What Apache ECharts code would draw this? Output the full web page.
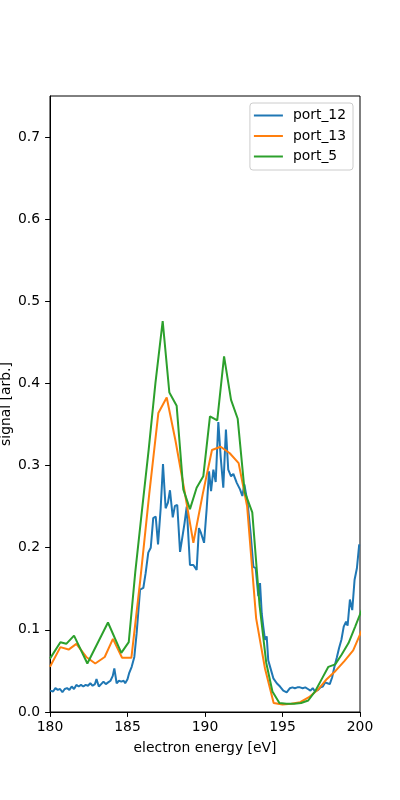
<!DOCTYPE html>
<html>
<head>
<meta charset="utf-8">
<script src="https://cdn.jsdelivr.net/npm/echarts@6/dist/echarts.min.js"></script>
<style>
  html, body { margin: 0; padding: 0; background: #fff; }
  #chart { width: 400px; height: 800px; }
</style>
</head>
<body>
<div id="chart"></div>
<script>
// port_12 (fine scan)
var port12Energy = [180.0, 180.2, 180.35, 180.5, 180.65, 180.8, 180.95, 181.1, 181.25, 181.4,
  181.55, 181.7, 181.85, 182.0, 182.15, 182.3, 182.45, 182.6, 182.75, 182.9,
  183.0, 183.15, 183.3, 183.45, 183.6, 183.75, 183.9, 184.05, 184.15, 184.3,
  184.45, 184.6, 184.75, 184.85, 185.0, 185.1, 185.27, 185.44, 185.59, 185.81,
  186.02, 186.17, 186.34, 186.5, 186.66, 186.82, 186.97, 187.14, 187.29, 187.46,
  187.61, 187.74, 187.92, 188.06, 188.21, 188.39, 188.54, 188.68, 188.82, 189.03,
  189.25, 189.46, 189.61, 189.74, 189.94, 190.11, 190.26, 190.39, 190.54, 190.69,
  190.86, 191.01, 191.18, 191.35, 191.5, 191.68, 191.83, 192.05, 192.26, 192.41,
  192.54, 192.75, 192.94, 193.12, 193.27, 193.44, 193.55, 193.66, 193.76, 193.87,
  193.98, 194.08, 194.26, 194.41, 194.63, 194.84, 195.05, 195.16, 195.27, 195.48,
  195.64, 195.8, 195.96, 196.13, 196.3, 196.47, 196.64, 196.8, 196.95, 197.1,
  197.3, 197.45, 197.6, 197.75, 197.9, 198.05, 198.2, 198.35, 198.5, 198.65,
  198.8, 198.95, 199.1, 199.2, 199.35, 199.5, 199.65, 199.8, 199.95]
var port12Signal = [0.026, 0.025, 0.029, 0.027, 0.028, 0.024, 0.028, 0.029, 0.027, 0.031,
  0.028, 0.033, 0.031, 0.033, 0.031, 0.033, 0.032, 0.035, 0.032, 0.034,
  0.040, 0.031, 0.034, 0.037, 0.034, 0.036, 0.038, 0.044, 0.053, 0.035,
  0.038, 0.037, 0.038, 0.035, 0.040, 0.047, 0.055, 0.067, 0.096, 0.149,
  0.151, 0.169, 0.194, 0.200, 0.236, 0.238, 0.204, 0.248, 0.302, 0.248,
  0.255, 0.270, 0.237, 0.251, 0.252, 0.195, 0.213, 0.230, 0.250, 0.179,
  0.179, 0.173, 0.224, 0.218, 0.206, 0.248, 0.293, 0.269, 0.295, 0.280,
  0.353, 0.311, 0.273, 0.344, 0.295, 0.287, 0.290, 0.279, 0.271, 0.263,
  0.277, 0.254, 0.218, 0.177, 0.175, 0.141, 0.157, 0.120, 0.104, 0.088,
  0.092, 0.063, 0.051, 0.041, 0.035, 0.031, 0.026, 0.028, 0.024, 0.029,
  0.030, 0.029, 0.030, 0.030, 0.029, 0.030, 0.028, 0.026, 0.029, 0.025,
  0.027, 0.030, 0.031, 0.036, 0.035, 0.034, 0.042, 0.055, 0.066, 0.078,
  0.088, 0.104, 0.110, 0.105, 0.137, 0.124, 0.161, 0.175, 0.204]

// port_13
var port13Energy = [180.0, 180.67, 181.2, 181.7, 182.34, 182.92, 183.53, 184.06, 184.65, 185.25,
  185.82, 186.4, 186.99, 187.53, 188.1, 188.67, 189.25, 189.85, 190.45, 191.01,
  191.6, 192.17, 192.72, 193.3, 193.87, 194.43, 195.0, 195.57, 196.14, 196.71,
  197.28, 197.85, 198.42, 198.99, 199.56, 200.13]
var port13Signal = [0.055, 0.079, 0.076, 0.083, 0.067, 0.059, 0.067, 0.089, 0.066, 0.066,
  0.160, 0.265, 0.364, 0.383, 0.330, 0.270, 0.206, 0.265, 0.319, 0.323,
  0.315, 0.303, 0.250, 0.114, 0.053, 0.011, 0.009, 0.010, 0.012, 0.018,
  0.027, 0.040, 0.050, 0.062, 0.075, 0.100]

// port_5
var port5Energy = [180.0, 180.67, 181.05, 181.55, 182.41, 183.74, 184.6, 185.08, 185.5, 185.93,
  186.37, 186.8, 187.27, 187.7, 188.17, 188.6, 189.03, 189.46, 189.89, 190.32,
  190.79, 191.23, 191.68, 192.11, 192.56, 193.05, 193.52, 193.95, 194.35, 194.8,
  195.25, 195.75, 196.2, 196.66, 197.1, 197.53, 197.96, 198.4, 198.82, 199.26,
  199.69, 200.13]
var port5Signal = [0.065, 0.085, 0.083, 0.093, 0.059, 0.109, 0.072, 0.085, 0.170, 0.245,
  0.320, 0.400, 0.476, 0.389, 0.373, 0.271, 0.247, 0.273, 0.287, 0.360,
  0.355, 0.433, 0.380, 0.357, 0.268, 0.243, 0.130, 0.060, 0.025, 0.011,
  0.010, 0.010, 0.011, 0.014, 0.025, 0.040, 0.055, 0.058, 0.070, 0.084,
  0.104, 0.125]

var yTicks = [0, 0.1, 0.2, 0.3, 0.4, 0.5, 0.6, 0.7]

function pairs(xs, ys) {
  return xs.map(function(x, i) { return [x, ys[i]] })
}

var font = 'DejaVu Sans'
var fs = 13.9
var chart = echarts.init(document.getElementById('chart'), null, { renderer: 'canvas' })

chart.setOption({
  animation: false,
  backgroundColor: '#ffffff',
  textStyle: { fontFamily: font },
  grid: {
    left: 50,
    right: 40,
    top: 96,
    bottom: 88,
    show: true,
    borderColor: '#000',
    borderWidth: 1,
    containLabel: false,
    outerBoundsMode: 'none'
  },
  legend: {
    orient: 'vertical',
    right: 47,
    top: 103,
    icon: 'rect',
    itemWidth: 29,
    itemHeight: 2,
    itemGap: 5.5,
    padding: [5, 7, 6, 4],
    borderColor: '#cccccc',
    borderWidth: 1,
    borderRadius: 3,
    backgroundColor: 'rgba(255,255,255,0.8)',
    textStyle: { fontFamily: font, fontSize: fs, color: '#000', lineHeight: 15, padding: [0, 0, 0, 5] },
    data: ['port_12', 'port_13', 'port_5']
  },
  xAxis: {
    type: 'value',
    min: 180,
    max: 200,
    interval: 5,
    name: 'electron energy [eV]',
    nameLocation: 'middle',
    nameGap: 29,
    nameMoveOverlap: false,
    nameTextStyle: { fontFamily: font, fontSize: fs, color: '#000' },
    axisLine: { show: true, lineStyle: { color: '#000', width: 1 } },
    axisTick: { show: true, length: 4.9, lineStyle: { color: '#000' } },
    axisLabel: { margin: 8.5, fontFamily: font, fontSize: fs, color: '#000' },
    splitLine: { show: false }
  },
  yAxis: {
    type: 'value',
    min: 0,
    max: 0.75,
    name: 'signal [arb.]',
    nameLocation: 'middle',
    nameGap: 37,
    nameMoveOverlap: false,
    nameTextStyle: { fontFamily: font, fontSize: fs, color: '#000' },
    axisLine: { show: true, lineStyle: { color: '#000', width: 1 } },
    axisTick: { show: true, length: 4.9, customValues: yTicks, lineStyle: { color: '#000' } },
    axisLabel: {
      margin: 10,
      fontFamily: font,
      fontSize: fs,
      color: '#000',
      customValues: yTicks,
      formatter: function(v) { return v.toFixed(1) }
    },
    splitLine: { show: false }
  },
  series: [{
    name: 'port_12',
    type: 'line',
    symbol: 'none',
    color: '#1f77b4',
    lineStyle: { width: 2 },
    data: pairs(port12Energy, port12Signal)
  }, {
    name: 'port_13',
    type: 'line',
    symbol: 'none',
    color: '#ff7f0e',
    lineStyle: { width: 2 },
    data: pairs(port13Energy, port13Signal)
  }, {
    name: 'port_5',
    type: 'line',
    symbol: 'none',
    color: '#2ca02c',
    lineStyle: { width: 2 },
    data: pairs(port5Energy, port5Signal)
  }]
})
</script>
</body>
</html>
